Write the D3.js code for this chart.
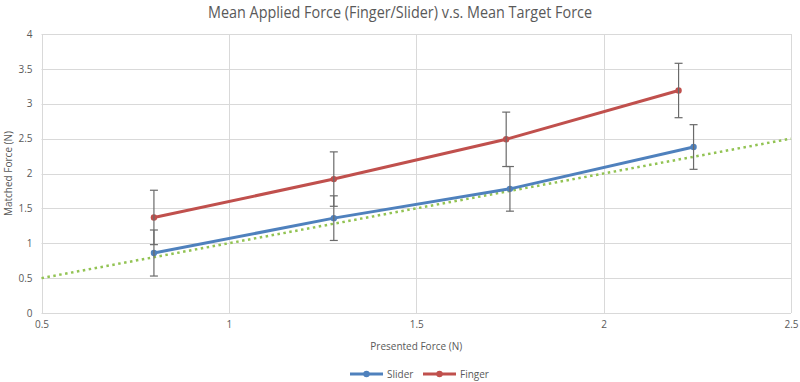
<!DOCTYPE html>
<html>
<head>
<meta charset="utf-8">
<script src="https://cdn.jsdelivr.net/npm/d3@7"></script>
<style>
  body { margin: 0; background: #fff; }
  text { font-family: "Open Sans", sans-serif; fill: #595959; }
</style>
</head>
<body>
<svg id="chart" width="800" height="382"></svg>
<script>
// data
const sliderX   = [0.80, 1.28, 1.75, 2.24];
const sliderY   = [0.86, 1.36, 1.78, 2.38];
const sliderErr = [0.33, 0.32, 0.32, 0.32];
const fingerX   = [0.80, 1.28, 1.74, 2.20];
const fingerY   = [1.37, 1.92, 2.49, 3.19];
const fingerErr = [0.39, 0.39, 0.39, 0.39];
const refLine   = [0.5, 2.5];   // y = x
const xTicks = [0.5, 1, 1.5, 2, 2.5];
const yTicks = [0, 0.5, 1, 1.5, 2, 2.5, 3, 3.5, 4];

const svg = d3.select('#chart');
const margin = { top: 34, right: 9, bottom: 69, left: 41.5 };
const width  = +svg.attr('width');
const height = +svg.attr('height');

const x = d3.scaleLinear().domain([0.5, 2.5]).range([margin.left, width - margin.right]);
const y = d3.scaleLinear().domain([0, 4]).range([height - margin.bottom, margin.top]);

const series = [
  { name: 'Slider', colour: '#4f81bd', pts: sliderX.map((v, i) => ({ x: v, y: sliderY[i], e: sliderErr[i] })) },
  { name: 'Finger', colour: '#c0504d', pts: fingerX.map((v, i) => ({ x: v, y: fingerY[i], e: fingerErr[i] })) }
];

// title
svg.append('text')
  .attr('x', 400).attr('y', 18)
  .attr('text-anchor', 'middle')
  .attr('font-size', 15.5)
  .attr('textLength', 384).attr('lengthAdjust', 'spacingAndGlyphs')
  .text('Mean Applied  Force (Finger/Slider) v.s. Mean Target Force');

// grid
const grid = svg.append('g').attr('stroke', '#d9d9d9').attr('stroke-width', 1);
grid.selectAll('.hg').data(yTicks).join('line')
  .attr('x1', x(0.5)).attr('x2', x(2.5))
  .attr('y1', d => Math.round(y(d)) + 0.5).attr('y2', d => Math.round(y(d)) + 0.5);
grid.selectAll('.vg').data(xTicks).join('line')
  .attr('y1', y(0)).attr('y2', y(4))
  .attr('x1', d => Math.round(x(d)) + 0.5).attr('x2', d => Math.round(x(d)) + 0.5);

// axes (labels only, Excel style)
const xAxis = svg.append('g')
  .attr('transform', `translate(0,${y(0) + 3})`)
  .call(d3.axisBottom(x).tickValues(xTicks).tickSize(0).tickFormat(d3.format('')));
xAxis.select('.domain').remove();
xAxis.selectAll('text').attr('font-size', 10).attr('dy', '0.9em');

const yAxis = svg.append('g')
  .attr('transform', `translate(${x(0.5) - 9},0)`)
  .call(d3.axisLeft(y).tickValues(yTicks).tickSize(0).tickFormat(d3.format('')));
yAxis.select('.domain').remove();
yAxis.selectAll('text').attr('font-size', 10).attr('x', 0);

// axis titles
svg.append('text')
  .attr('x', (x(0.5) + x(2.5)) / 2).attr('y', 350)
  .attr('text-anchor', 'middle').attr('font-size', 10)
  .text('Presented Force (N)');
svg.append('text')
  .attr('transform', `translate(12,${(y(0) + y(4)) / 2}) rotate(-90)`)
  .attr('text-anchor', 'middle').attr('font-size', 10)
  .text('Matched Force (N)');

// reference line y = x
svg.append('line')
  .attr('x1', x(refLine[0])).attr('y1', y(refLine[0]))
  .attr('x2', x(refLine[1])).attr('y2', y(refLine[1]))
  .attr('stroke', '#92c353').attr('stroke-width', 2.5)
  .attr('stroke-dasharray', '2.5,3.5');

// series lines + markers
const line = d3.line().x(d => x(d.x)).y(d => y(d.y));
series.forEach(s => {
  svg.append('path')
    .datum(s.pts)
    .attr('fill', 'none')
    .attr('stroke', s.colour)
    .attr('stroke-width', 3)
    .attr('d', line);
  svg.selectAll(null).data(s.pts).join('circle')
    .attr('cx', d => x(d.x)).attr('cy', d => y(d.y))
    .attr('r', 3.2).attr('fill', s.colour);
});

// error bars
series.forEach(s => {
  const eb = svg.append('g').attr('stroke', '#6a6a6a').attr('stroke-width', 1.2);
  eb.selectAll('.v').data(s.pts).join('line')
    .attr('x1', d => x(d.x)).attr('x2', d => x(d.x))
    .attr('y1', d => y(d.y + d.e)).attr('y2', d => y(d.y - d.e));
  eb.selectAll('.t').data(s.pts).join('line')
    .attr('x1', d => x(d.x) - 4).attr('x2', d => x(d.x) + 4)
    .attr('y1', d => y(d.y + d.e)).attr('y2', d => y(d.y + d.e));
  eb.selectAll('.b').data(s.pts).join('line')
    .attr('x1', d => x(d.x) - 4).attr('x2', d => x(d.x) + 4)
    .attr('y1', d => y(d.y - d.e)).attr('y2', d => y(d.y - d.e));
});

// legend
const legend = svg.append('g').attr('transform', 'translate(350,374)');
const items = legend.selectAll('g').data(series).join('g')
  .attr('transform', (d, i) => `translate(${i * 73},0)`);
items.append('line')
  .attr('x1', 0).attr('x2', 33)
  .attr('stroke', d => d.colour).attr('stroke-width', 3);
items.append('circle')
  .attr('cx', 16.5).attr('r', 3.2).attr('fill', d => d.colour);
items.append('text')
  .attr('x', 37).attr('dy', '0.35em').attr('font-size', 10)
  .text(d => d.name);
</script>
</body>
</html>
